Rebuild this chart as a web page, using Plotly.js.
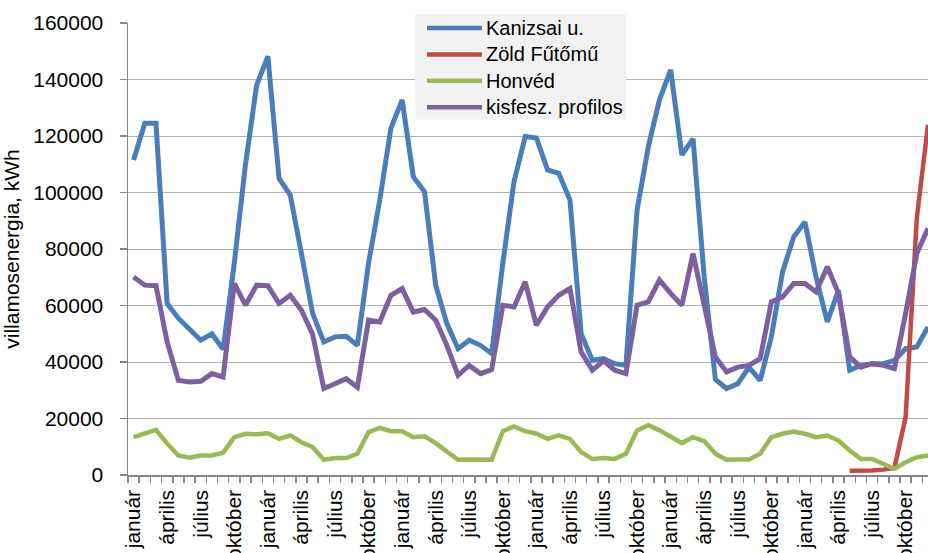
<!DOCTYPE html>
<html><head><meta charset="utf-8">
<script src="https://cdn.plot.ly/plotly-3.0.1.min.js"></script>
<style>html,body{margin:0;padding:0;background:#fff}#chart{width:928px;height:553px}</style>
</head><body><div id="chart"></div>
<script>
// ---- data ----
const monthLabels = ['január', 'április', 'július', 'október'];
const seriesNames = ['Kanizsai u.', 'Zöld Fűtőmű', 'Honvéd', 'kisfesz. profilos'];

const kanizsai = [111500,124500,124500,60700,55500,51500,47700,50000,44500,75000,110000,138000,
  148200,105000,99100,78400,57200,47100,48900,49100,45900,75000,97300,122800,
  132800,105600,100300,67200,53600,44700,47700,45900,43000,75000,103800,119800,
  119300,108000,106800,97300,50000,40600,41200,39400,38800,93800,116200,132800,
  143400,113300,119000,70000,33800,30600,32300,38200,33500,48900,71900,84300,
  89600,70000,54200,65400,37100,38800,39400,39400,40600,44700,45300,52400];

const zoldFutomu = [null,null,null,null,null,null,null,null,null,null,null,null,
  null,null,null,null,null,null,null,null,null,null,null,null,
  null,null,null,null,null,null,null,null,null,null,null,null,
  null,null,null,null,null,null,null,null,null,null,null,null,
  null,null,null,null,null,null,null,null,null,null,null,null,
  null,null,null,null,1500,1500,1600,1900,2500,20500,91000,124000];

const honved = [13400,14600,16000,11100,6900,6100,6900,6900,7900,13400,14600,14400,
  14800,12800,14000,11600,9900,5400,6000,6000,7500,15200,16700,15500,
  15500,13400,13700,11300,8100,5400,5500,5500,5400,15500,17200,15500,
  14600,12800,14000,12800,8100,5700,6000,5700,7500,15800,17600,15800,
  13400,11300,13400,12000,7500,5400,5500,5500,7500,13400,14600,15400,
  14600,13400,14000,12200,8700,5700,5700,4000,2200,4500,6300,6900];

const kisfesz = [70100,67200,67000,47100,33500,32900,33200,35900,34700,67800,60100,67200,
  67000,60700,63600,58300,49800,30600,32300,34100,31100,54800,54200,63600,
  66000,57700,58600,54800,45900,35300,38800,35900,37300,60100,59500,68400,
  53000,59500,63600,66000,43500,37100,40400,37100,35900,60100,61300,69000,
  64300,60100,78400,60000,41800,36500,38200,38800,41200,61300,63000,67800,
  67800,64800,73700,64300,41800,38200,39400,38800,37700,57200,78400,87300];

// ---- build ----
const FONT = '"Liberation Sans", Arial, sans-serif';
const colors = ['#4A7EBB', '#BE4B48', '#98B954', '#7D60A0'];
const widths = [5, 4.5, 4.5, 5];
const allSeries = [kanizsai, zoldFutomu, honved, kisfesz];
const xIdx = kanizsai.map((_, i) => i);

const tickvals = [], ticktext = [];
for (let i = 0; i < xIdx.length; i += 3) { tickvals.push(i); ticktext.push(monthLabels[(i / 3) % 4]); }

const traces = allSeries.map((s, k) => ({
  type: 'scatter', mode: 'lines', x: xIdx, y: s, name: seriesNames[k],
  line: {color: colors[k], width: widths[k], shape: 'linear'},
  connectgaps: false, showlegend: false, hoverinfo: 'skip'
}));

const W = 928, H = 553, M = {l: 128, r: 0, t: 23, b: 78};
const pw = W - M.l - M.r, ph = H - M.t - M.b;
const px2x = p => (p - M.l) / pw;
const px2y = p => (H - M.b - p) / ph;

// manual legend
const legBox = {x0: 415, x1: 626, y0: 14.5, y1: 119.5};
const rowY0 = 28, rowStep = 26.4, lineX0 = 427, lineX1 = 482, textX = 485;
const shapes = [{
  type: 'rect', xref: 'paper', yref: 'paper', layer: 'above',
  x0: px2x(legBox.x0), x1: px2x(legBox.x1), y0: px2y(legBox.y1), y1: px2y(legBox.y0),
  fillcolor: '#F2F2F2', line: {width: 0}
}];
const annotations = [];
seriesNames.forEach((n, k) => {
  const yy = px2y(rowY0 + k * rowStep);
  shapes.push({type: 'line', xref: 'paper', yref: 'paper', layer: 'above',
    x0: px2x(lineX0), x1: px2x(lineX1), y0: yy, y1: yy,
    line: {color: colors[k], width: 4.5}});
  annotations.push({xref: 'paper', yref: 'paper', x: px2x(textX), y: yy,
    xanchor: 'left', yanchor: 'middle', showarrow: false, text: n,
    font: {family: FONT, size: 20, color: '#000'}, borderpad: 0});
});

const layout = {
  width: W, height: H, margin: M,
  paper_bgcolor: '#fff', plot_bgcolor: '#fff',
  font: {family: FONT, size: 21, color: '#000'},
  showlegend: false,
  xaxis: {
    range: [-0.5, 71.0], tickmode: 'array', tickvals: tickvals, ticktext: ticktext,
    tickangle: -90, ticks: '', showgrid: false, zeroline: false,
    showline: true, linecolor: '#868686', linewidth: 1.5,
    tickfont: {family: FONT, size: 21, color: '#000'}, ticklabelstandoff: 5,
    minor: {tickmode: 'linear', tick0: -0.5, dtick: 1, ticks: 'outside', ticklen: 6,
      tickcolor: '#868686', tickwidth: 1.5, showgrid: false}
  },
  yaxis: {
    range: [0, 160000], tickmode: 'linear', tick0: 0, dtick: 20000, tickformat: 'd',
    ticks: 'outside', ticklen: 7, tickcolor: '#868686', tickwidth: 1.5,
    showgrid: true, gridcolor: '#B3B3B3', gridwidth: 1, zeroline: false,
    showline: true, linecolor: '#868686', linewidth: 1.5,
    tickfont: {family: FONT, size: 21, color: '#000'}, ticklabelstandoff: 12,
    title: {text: 'villamosenergia, kWh', font: {family: FONT, size: 21, color: '#000'}, standoff: 8}
  },
  shapes: shapes, annotations: annotations
};

Plotly.newPlot('chart', traces, layout, {staticPlot: true, displayModeBar: false});
</script>
</body></html>
